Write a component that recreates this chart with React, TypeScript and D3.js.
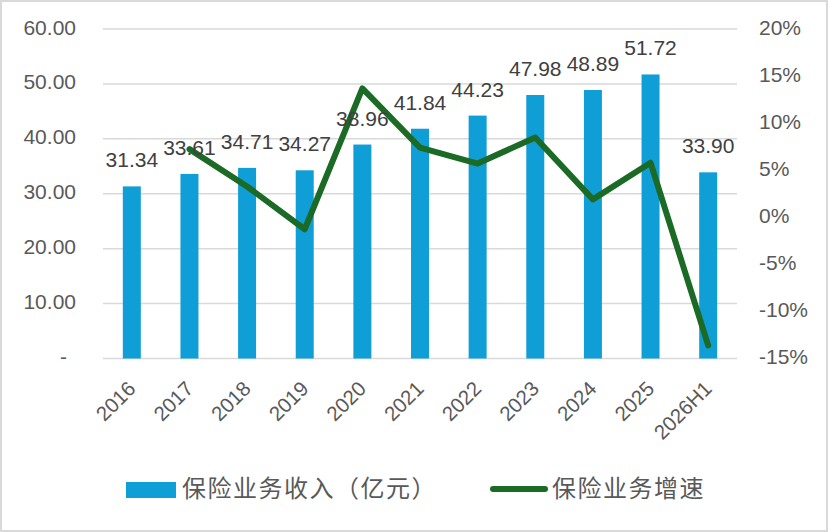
import * as d3 from "d3";

const categories = ["2016", "2017", "2018", "2019", "2020", "2021", "2022", "2023", "2024", "2025", "2026H1"];
const revenue = [31.34, 33.61, 34.71, 34.27, 38.96, 41.84, 44.23, 47.98, 48.89, 51.72, 33.9];
// growth in %, null where there is no point
const growth: (number | null)[] = [null, 7.24, 3.27, -1.27, 13.69, 7.39, 5.71, 8.48, 1.9, 5.79, -13.6];
const leftTicks = [0, 10, 20, 30, 40, 50, 60];
const rightTicks = [-15, -10, -5, 0, 5, 10, 15, 20];

const W = 828;
const H = 532;
const plot = { left: 103, right: 737, top: 29, bottom: 358.5 };
const barColor = "#109ed6";
const lineColor = "#1b6b26";
const labelColor = "#595959";
const numFont = "'Liberation Sans', Arial, sans-serif";
const cjkFont = "'Noto Sans CJK SC', sans-serif";

export default function App() {
  const x = d3.scaleBand<string>().domain(categories).range([plot.left, plot.right]);
  const yL = d3.scaleLinear().domain([0, 60]).range([plot.bottom, plot.top]);
  const yR = d3.scaleLinear().domain([-15, 20]).range([plot.bottom, plot.top]);
  const barW = 18;
  const cx = (c: string) => x(c)! + x.bandwidth() / 2;

  const linePts = categories
    .map((c, i) => ({ c, v: growth[i] }))
    .filter((d) => d.v !== null) as { c: string; v: number }[];
  const linePath = d3
    .line<{ c: string; v: number }>()
    .x((d) => cx(d.c))
    .y((d) => yR(d.v))(linePts);

  return (
    <div>
      <style>{"body{margin:0}"}</style>
      <svg width={W} height={H} style={{ display: "block" }}>
        <rect x={1} y={1} width={W - 2} height={H - 2} fill="#fff" stroke="#d9d9d9" strokeWidth={2} />

        {leftTicks.map((t) => (
          <line key={t} x1={plot.left} x2={plot.right} y1={yL(t)} y2={yL(t)} stroke="#d9d9d9" strokeWidth={1.5} />
        ))}

        {leftTicks.map((t) => (
          <text
            key={t}
            x={t === 0 ? 67 : 76}
            y={yL(t)}
            textAnchor="end"
            dominantBaseline="middle"
            fontFamily={numFont}
            fontSize={21}
            fill={labelColor}
          >
            {t === 0 ? "-" : d3.format(".2f")(t)}
          </text>
        ))}

        {rightTicks.map((t) => (
          <text
            key={t}
            x={759}
            y={yR(t)}
            textAnchor="start"
            dominantBaseline="middle"
            fontFamily={numFont}
            fontSize={21}
            fill={labelColor}
          >
            {t + "%"}
          </text>
        ))}

        {categories.map((c, i) => (
          <rect
            key={c}
            x={cx(c) - barW / 2}
            y={yL(revenue[i])}
            width={barW}
            height={yL(0) - yL(revenue[i])}
            fill={barColor}
          />
        ))}

        <path d={linePath!} fill="none" stroke={lineColor} strokeWidth={6} strokeLinejoin="round" strokeLinecap="round" />

        {categories.map((c, i) => (
          <text
            key={c}
            x={cx(c)}
            y={yL(revenue[i]) - 19}
            textAnchor="middle"
            fontFamily={numFont}
            fontSize={21}
            fill="#404040"
          >
            {d3.format(".2f")(revenue[i])}
          </text>
        ))}

        {categories.map((c) => (
          <text
            key={c}
            transform={`translate(${cx(c) + 5},${390}) rotate(-45)`}
            textAnchor="end"
            fontFamily={numFont}
            fontSize={20.5}
            fill={labelColor}
          >
            {c}
          </text>
        ))}

        <g>
          <rect x={126} y={482} width={50} height={16} fill={barColor} />
          <text
            x={182}
            y={490}
            dominantBaseline="middle"
            fontFamily={cjkFont}
            fontSize={24}
            letterSpacing={1.5}
            fill={labelColor}
          >
            保险业务收入（亿元）
          </text>
          <line x1={493} x2={545} y1={489} y2={489} stroke={lineColor} strokeWidth={6} strokeLinecap="round" />
          <text
            x={552}
            y={490}
            dominantBaseline="middle"
            fontFamily={cjkFont}
            fontSize={24}
            letterSpacing={1.5}
            fill={labelColor}
          >
            保险业务增速
          </text>
        </g>
      </svg>
    </div>
  );
}
